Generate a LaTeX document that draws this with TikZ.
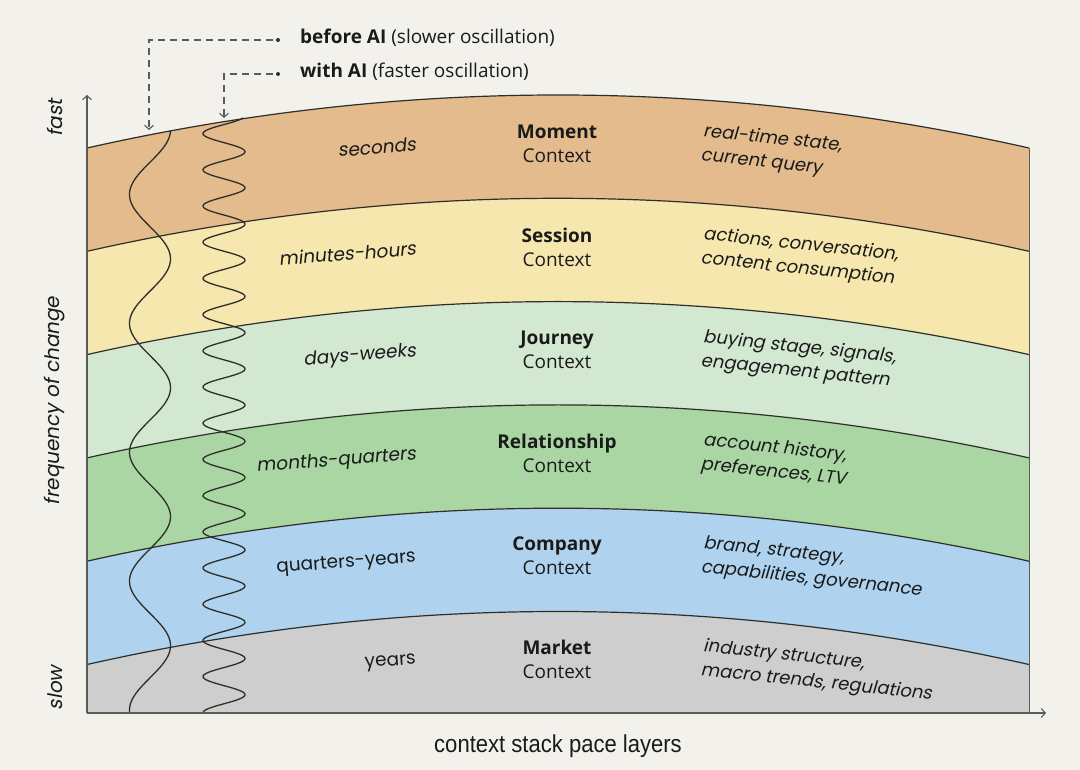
\documentclass[tikz,border=0pt]{standalone}
\usepackage{fontspec}
\setmainfont{Open Sans}
\newfontfamily\labfont[FakeSlant=0.18]{Poppins}
\newfontfamily\upfont{Poppins}
\newfontfamily\axfont[FakeStretch=0.9]{Liberation Sans}
\usetikzlibrary{arrows.meta}
\definecolor{bg}{HTML}{F3F1EC}
\definecolor{cMoment}{HTML}{E3BB8C}
\definecolor{cSession}{HTML}{F6E7AE}
\definecolor{cJourney}{HTML}{D2E8D0}
\definecolor{cRel}{HTML}{A9D6A3}
\definecolor{cComp}{HTML}{AFD3EE}
\definecolor{cMarket}{HTML}{CECECE}
\definecolor{txt}{HTML}{1A1A1A}
\definecolor{lineC}{HTML}{2E2E2A}
\definecolor{axC}{HTML}{5A5A5A}
\begin{document}
\begin{tikzpicture}[x=1pt,y=-1pt,
  bline/.style={draw=lineC,line width=1.2pt},
  wave/.style={draw=lineC,line width=1.3pt,line join=round},
  axisline/.style={draw=axC,line width=1.3pt,-{Straight Barb[length=4pt,width=9pt,line width=1.1pt]}},
  legline/.style={draw=axC,line width=1.3pt,dash pattern=on 7pt off 5pt,-{Straight Barb[length=4pt,width=9pt,line width=1.1pt]}},
  dotnode/.style={circle,fill=lineC,inner sep=0pt,minimum size=4pt,outer sep=3pt},
  timelab/.style={font=\labfont\fontsize{18.5}{22}\selectfont,text=txt,anchor=east,rotate=4.5,inner sep=0pt},
  timeup/.style={font=\upfont\fontsize{18.5}{22}\selectfont,text=txt,anchor=east,rotate=4.5,inner sep=0pt},
  ctxlab/.style={font=\fontsize{19}{24}\selectfont,text=txt,align=center,inner sep=0pt},
  desclab/.style={font=\labfont\fontsize{18}{24}\selectfont,text=txt,align=left,anchor=west,rotate=-6,inner sep=0pt},
  axlab/.style={font=\labfont\fontsize{20}{22}\selectfont,text=txt,rotate=90,inner sep=0pt},
  leglab/.style={font=\fontsize{19}{21}\selectfont,text=txt,anchor=west,inner sep=0pt}
]
\useasboundingbox (0,0) rectangle (1080,770);
\fill[bg] (0,0) rectangle (1080,770);

% bands
\foreach \y/\c in {148/cMoment,251.3/cSession,354.6/cJourney,457.9/cRel,561.2/cComp,664.5/cMarket}{
  \fill[\c] (87,\y) .. controls (401,\y-70.67) and (715,\y-70.67) .. (1029,\y) -- (1029,713) -- (87,713) -- cycle;
}
\foreach \y in {148,251.3,354.6,457.9,561.2,664.5}{
  \draw[bline] (87,\y) .. controls (401,\y-70.67) and (715,\y-70.67) .. (1029,\y);
}
\draw[draw=axC,line width=1pt] (1029,148) -- (1029,713);

% oscillations
\draw[wave] plot[variable=\t,domain=131:712,samples=300,smooth] ({150+20.5*cos((\t-130)/128.9*360)},\t);
\draw[wave] plot[variable=\t,domain=118:712,samples=600,smooth] ({224+21*cos((\t-115.5)/36.2*360)},\t);

% axes
\coordinate (o) at (87,713);
\coordinate (ytop) at (87,95);
\coordinate (xend) at (1046,713);
\draw[axisline] (o) -- (ytop);
\draw[axisline] (o) -- (xend);

% legend
\node[dotnode] (d1) at (278,40) {};
\node[dotnode] (d2) at (278,74) {};
\coordinate (t1) at (149,130);
\coordinate (t2) at (224,118);
\draw[legline] (d1) -| (t1);
\draw[legline] (d2) -| (t2);
\node[leglab] (l1) at (300,38) {\textbf{before AI} (slower oscillation)};
\node[leglab] (l2) at (300,72) {\textbf{with AI} (faster oscillation)};

% axis labels
\node[axlab] (fast) at (55,118) {fast};
\node[axlab] (freq) at (55,401) {frequency of change};
\node[axlab] (slow) at (55,688) {slow};
\node[font=\axfont\fontsize{24.5}{26}\selectfont,text=txt,inner sep=0pt] (xl) at (558,746) {context stack pace layers};

% time labels
\node[timelab] (s1) at (416,144) {seconds};
\node[timelab] (s2) at (416,248) {minutes-hours};
\node[timelab] (s3) at (416,352) {days-weeks};
\node[timelab] (s4) at (416,455) {months-quarters};
\node[timeup] (s5) at (416,558) {quarters-years};
\node[timeup] (s6) at (416,661) {years};

% context labels
\node[ctxlab] (c1) at (557,144) {\textbf{Moment}\\Context};
\node[ctxlab] (c2) at (557,247) {\textbf{Session}\\Context};
\node[ctxlab] (c3) at (557,350) {\textbf{Journey}\\Context};
\node[ctxlab] (c4) at (557,453) {\textbf{Relationship}\\Context};
\node[ctxlab] (c5) at (557,556) {\textbf{Company}\\Context};
\node[ctxlab] (c6) at (557,659) {\textbf{Market}\\Context};

% descriptions
\node[desclab] (e1) at (702,144) {real-time state,\\current query};
\node[desclab] (e2) at (702,247) {actions, conversation,\\content consumption};
\node[desclab] (e3) at (702,350) {buying stage, signals,\\engagement pattern};
\node[desclab] (e4) at (702,453) {account history,\\preferences, LTV};
\node[desclab] (e5) at (702,556) {brand, strategy,\\capabilities, governance};
\node[desclab] (e6) at (702,659) {industry structure,\\macro trends, regulations};
\end{tikzpicture}
\end{document}
